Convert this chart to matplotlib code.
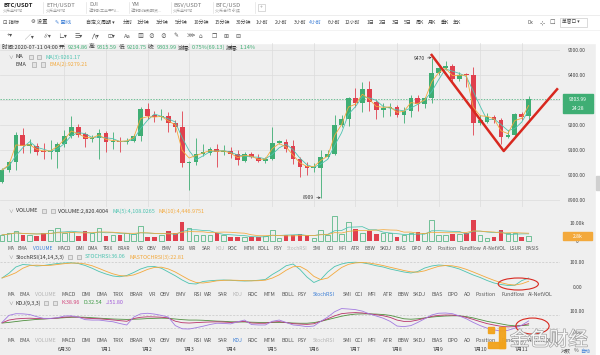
import numpy as np
import pandas as pd
import matplotlib
matplotlib.use('Agg')
import matplotlib.pyplot as plt
from matplotlib.patches import Rectangle, Ellipse
import matplotlib.patheffects as pe

plt.rcParams['font.family'] = ['Noto Sans CJK SC', 'DejaVu Sans']

# ---------------- data ----------------
opens = [8973, 9020, 9051, 9160, 9115, 9117, 9097, 9093, 9093, 9123,
         9156, 9193, 9163, 9143, 9147, 9167, 9133, 9136, 9133, 9136,
         9156, 9264, 9240, 9231, 9236, 9207, 9193, 9047, 9053, 9083,
         9090, 9103, 9093, 9097, 9084, 9057, 9084, 9069, 9058, 9064,
         9127, 9133, 9118, 9063, 9036, 9027, 9027, 9071, 9084, 9200,
         9223, 9307, 9289, 9343, 9293, 9260, 9269, 9273, 9240, 9257,
         9307, 9284, 9307, 9409, 9430, 9436, 9383, 9403, 9400, 9207,
         9213, 9233, 9220, 9151, 9160, 9244, 9234.86]
highs = [9027, 9056, 9171, 9189, 9143, 9127, 9130, 9140, 9133, 9180,
         9237, 9204, 9171, 9160, 9184, 9176, 9171, 9153, 9149, 9163,
         9273, 9289, 9256, 9264, 9251, 9220, 9256, 9056, 9149, 9123,
         9113, 9123, 9120, 9113, 9100, 9093, 9093, 9084, 9072, 9191,
         9140, 9144, 9140, 9071, 9053, 9049, 9100, 9100, 9240, 9240,
         9313, 9349, 9373, 9377, 9300, 9289, 9287, 9280, 9273, 9320,
         9320, 9313, 9470, 9433, 9455, 9444, 9413, 9409, 9431, 9240,
         9249, 9240, 9227, 9180, 9249, 9253, 9315.59]
lows = [8969, 9013, 9020, 9087, 9087, 9080, 9064, 9064, 9027, 9113,
        9149, 9153, 9113, 9131, 9064, 9093, 9104, 9093, 9123, 9131,
        9136, 9224, 9211, 9220, 9173, 9171, 9033, 8940, 9040, 9076,
        9080, 9033, 9080, 9067, 9040, 9053, 9067, 9051, 9050, 9060,
        9124, 9093, 9043, 8991, 9000, 9013, 8909, 9067, 9080, 9191,
        9196, 9273, 9253, 9257, 9223, 9233, 9236, 9233, 9207, 9233,
        9257, 9267, 9287, 9400, 9420, 9377, 9377, 9353, 9160, 9200,
        9207, 9207, 9124, 9147, 9153, 9220, 9210.75]
closes = [9020, 9051, 9160, 9117, 9123, 9093, 9093, 9097, 9123, 9156,
          9193, 9160, 9143, 9147, 9167, 9133, 9136, 9133, 9137, 9156,
          9264, 9237, 9231, 9236, 9207, 9193, 9047, 9053, 9083, 9093,
          9103, 9093, 9097, 9083, 9060, 9084, 9073, 9056, 9064, 9127,
          9136, 9105, 9063, 9033, 9027, 9033, 9071, 9084, 9200, 9223,
          9307, 9289, 9343, 9293, 9260, 9269, 9273, 9240, 9257, 9307,
          9284, 9307, 9409, 9427, 9436, 9383, 9400, 9399, 9207, 9220,
          9233, 9220, 9153, 9160, 9244, 9231, 9303.99]
volumes_k = [3.6, 4.5, 6.0, 3.6, 3.6, 3.1, 4.9, 6.4, 7.3, 4.5,
             5.0, 3.1, 5.5, 4.5, 7.6, 3.1, 3.6, 3.6, 4.5, 4.0,
             8.2, 2.7, 2.7, 3.6, 5.5, 4.5, 10.9, 7.6, 3.6, 3.6,
             3.6, 4.9, 3.6, 2.7, 2.2, 2.7, 2.2, 2.7, 3.1, 6.4,
             2.0, 3.3, 3.3, 4.2, 3.6, 1.8, 6.4, 3.6, 14.0, 4.2,
             10.9, 6.9, 4.5, 5.5, 4.2, 4.5, 4.5, 2.7, 3.3, 4.5,
             5.1, 4.5, 11.8, 3.6, 3.6, 4.2, 4.2, 4.5, 11.8, 3.6,
             1.8, 2.7, 6.4, 4.5, 4.5, 2.7, 2.82]
stoch_rsi = [36, 55, 80, 90, 88, 84, 86, 90, 94, 96,
             97, 94, 86, 75, 62, 52, 44, 41, 46, 58,
             72, 81, 82, 75, 60, 45, 28, 14, 12, 22,
             25, 27, 28, 27, 25, 24, 25, 27, 30, 50,
             66, 85, 92, 70, 40, 18, 30, 60, 82, 92,
             98, 99, 97, 92, 85, 80, 72, 66, 60, 56,
             62, 76, 84, 88, 86, 80, 72, 60, 48, 38,
             26, 16, 10, 6, 7, 25.5, 36.06]
kdj_k = [43.0, 56.0, 61.3, 63.7, 64.7, 63.3, 62.0, 63.3, 65.7, 69.7,
         71.3, 70.0, 65.3, 63.3, 62.0, 59.3, 56.7, 53.3, 50.3, 63.3,
         69.0, 71.3, 70.7, 69.3, 66.0, 50.7, 43.7, 42.0, 44.0, 45.7,
         47.0, 47.7, 46.7, 44.7, 47.3, 50.0, 42.3, 41.0, 41.0, 46.7,
         48.7, 44.3, 39.0, 37.3, 35.7, 38.7, 50.0, 62.0, 75.7, 86.0,
         89.3, 91.0, 89.3, 85.0, 81.0, 76.3, 68.7, 56.0, 49.7, 50.0,
         56.3, 64.7, 73.3, 78.0, 79.7, 79.3, 75.7, 68.7, 59.0, 48.7,
         39.3, 32.7, 26.7, 24.0, 25.3, 30.7, 38.96]
kdj_d = [42, 45, 49, 53, 56, 59, 61, 63, 65, 67,
         69, 70, 69, 67, 65, 63, 61, 60, 59, 60,
         61, 63, 64, 65, 64, 61, 58, 56, 56, 55,
         53, 51, 50, 48, 47, 47, 46, 45, 45, 45,
         45, 44, 42, 41, 41, 44, 50, 58, 66, 74,
         80, 84, 85, 85, 84, 82, 78, 70, 62, 60,
         62, 66, 70, 73, 75, 76, 76, 72, 66, 58,
         50, 44, 38, 32, 29, 30, 32.54]
start_time = '2020-06-28 12:00'
price_ticks = [8900, 9000, 9100, 9200, 9300, 9400, 9500]
first_label_day = '2020-06-30'
# hand-drawn annotation (candle index, price)
v_line_idx = [62.0, 72.4, 80.1]
v_line_price = [9480, 9096, 9343]

# ---------------- derived ----------------
o = np.array(opens); h = np.array(highs); l = np.array(lows); c = np.array(closes)
vol = np.array(volumes_k)
n = len(c)
x = np.arange(n)
times = pd.date_range(start_time, periods=n, freq='4h')
day_mask = (times.hour == 0) & (times >= pd.Timestamp(first_label_day))
day_idx = x[day_mask]
day_labels = [f"{t.month}月{t.day}" for t in times[day_mask]]
ma3 = pd.Series(c).rolling(3, min_periods=1).mean()
ema2 = pd.Series(c).ewm(span=2, adjust=False).mean()
vma5 = pd.Series(vol).rolling(5, min_periods=1).mean()
vma10 = pd.Series(vol).rolling(10, min_periods=1).mean()
srsi = np.array(stoch_rsi)
srsi_ma = pd.Series(srsi).rolling(3, min_periods=1).mean()
K = np.array(kdj_k); D = np.array(kdj_d); J = 3 * K - 2 * D
up = c >= o

GREEN = '#3fae74'
RED = '#e0404e'
TEAL = '#4cc3b0'
ORANGE = '#f3a93c'
BLUE = '#3d7fd6'
GRID = '#dcdcdc'
TXT = '#444444'

W, H = 600, 355
fig = plt.figure(figsize=(6, 3.55), dpi=100)
fig.patch.set_facecolor('#efefef')
renderer = fig.canvas.get_renderer()


def frect(x0, y0, x1, y1, **kw):
    r = Rectangle((x0 / W, 1 - y1 / H), (x1 - x0) / W, (y1 - y0) / H,
                  transform=fig.transFigure, **kw)
    fig.add_artist(r)
    return r


def put(xp, yp, s, color=TXT, size=3.8, ha='left', **kw):
    return fig.text(xp / W, 1 - yp / H, s, color=color, fontsize=size,
                    va='center', ha=ha, **kw)


def seq(xp, yp, parts, size=3.8, gap=1.5):
    for s, col in parts:
        t = put(xp, yp, s, col, size)
        bb = t.get_window_extent(renderer=renderer)
        xp += bb.width + gap
    return xp


def px_axes(left, top, right, bottom):
    ax = fig.add_axes([left / W, 1 - bottom / H, (right - left) / W, (bottom - top) / H])
    ax.set_facecolor('none')
    for s in ax.spines.values():
        s.set_visible(False)
    ax.set_xlim(-0.29, 80.52)
    return ax


def right_labels(ax, ticks, labels, size=3.6):
    ax.yaxis.tick_right()
    ax.set_yticks(ticks)
    ax.set_yticklabels(labels)
    ax.tick_params(axis='y', length=0, pad=12.3, labelsize=size, labelcolor=TXT)
    plt.setp(ax.get_yticklabels(), ha='center')


# ---------------- toolbar (white) ----------------
frect(0, 0, 600, 42.5, color='white', zorder=0)
fig.add_artist(plt.Line2D([0, 1], [1 - 14.5 / H] * 2, transform=fig.transFigure, color='#e6e6e6', lw=0.5))
fig.add_artist(plt.Line2D([0, 1], [1 - 29.5 / H] * 2, transform=fig.transFigure, color='#eeeeee', lw=0.5))

tabs = [("BTC/USDT", "火币全球站", 3), ("ETH/USDT", "火币全球站", 46), ("DJI", "道琼斯工业平均...", 89),
        ("YM", "道琼斯指数期货...", 131), ("BSV/USDT", "火币全球站", 173), ("BTC/USD", "火币合约 永续", 215)]
for k_, (a, b, xp) in enumerate(tabs):
    put(xp, 5, a, '#222' if k_ == 0 else '#777', 4.2, fontweight='bold' if k_ == 0 else 'normal')
    put(xp, 11, b, '#999', 2.9)
    fig.add_artist(plt.Line2D([(xp + 40) / W] * 2, [1 - 2 / H, 1 - 13 / H], transform=fig.transFigure,
                              color='#e3e3e3', lw=0.5))
frect(258, 4, 265, 11, facecolor='white', edgecolor='#bbb', lw=0.4)
put(261.5, 7.3, '+', '#999', 3.6, ha='center')

put(3, 22, '⊡ 指标', '#444', 3.8)
put(31, 22, '⚙ 设置', '#444', 3.8)
put(55, 22, '✎ 画线', BLUE, 3.8)
put(86, 22, '自定义周期 ▾', '#444', 3.6)
periods = [("分时", 123), ("1分钟", 137), ("3分钟", 156), ("5分钟", 175), ("10分钟", 194), ("15分钟", 215),
           ("30分钟", 236), ("1小时", 256), ("2小时", 275), ("3小时", 294), ("4小时", 309), ("6小时", 328),
           ("12小时", 345), ("1日", 367), ("2日", 379), ("3日", 392), ("5日", 404), ("周K", 416),
           ("月K", 428), ("季K", 441), ("年K", 453)]
for s, xp in periods:
    put(xp, 22, s, BLUE if s == "4小时" else '#444', 3.6)
put(527, 22, 'Dx', '#555', 3.5)
put(540, 22, '⊹', '#555', 4.5)
put(549, 22, '☐', '#555', 4.5)
frect(560, 17.5, 587, 26.5, facecolor='white', edgecolor='#ccc', lw=0.5)
put(562, 22, '单窗口 ▾', '#444', 3.4)

icons = [("+▾", 7), ("╱▾", 25), ("∥▾", 43), ("∟▾", 58), ("☰▾", 75), ("⋀▾", 91), ("⊡▾", 107),
         ("Aa", 124), ("▨", 137), ("⊘", 148), ("⊘", 160), ("✎", 173), ("⋙", 187), ("⌂", 199),
         ("❐", 212), ("⊞", 223), ("⊟", 235)]
for s, xp in icons:
    put(xp, 36, s, '#555', 4.2)

# ---------------- info rows ----------------
seq(2, 47.5, [("时间:2020-07-11 04:00", '#333'), ("开:", '#333'), ("9234.86", GREEN), ("高:", '#333'),
              ("9315.59", GREEN), ("低:", '#333'), ("9210.75", GREEN), ("收:", '#333'), ("9303.99", GREEN),
              ("涨幅:", '#333'), ("0.75%(69.13)", GREEN), ("振幅:", '#333'), ("1.14%", GREEN)], size=4.0, gap=1.3)


def title_row(yp, name, name_x, box_x, parts, parts_x, chevron=True):
    if chevron:
        put(8, yp, '∨', '#888', 3.4)
    put(name_x, yp, name, '#333', 3.9)
    for bx in box_x:
        frect(bx, yp - 2.2, bx + 4.4, yp + 2.2, facecolor='#e4e4e4', edgecolor='#999', lw=0.4)
    seq(parts_x, yp, parts, size=3.9, gap=4)


title_row(57, 'MA', 15, [28.5, 37], [("MA(3):9261.17", TEAL)], 45)
title_row(64.5, 'EMA', 15, [32, 41], [("EMA(2):9279.21", ORANGE)], 49, chevron=False)
title_row(211, 'VOLUME', 16, [42, 50.5], [("VOLUME:2,820.4004", '#333'), ("MA(5):4,108.0265", TEAL),
                                          ("MA(10):4,446.9751", ORANGE)], 58)
title_row(257, 'StochRSI(14,14,3,3)', 16, [68, 77], [("STOCHRSI:36.06", TEAL),
                                                     ("MASTOCHRSI(3):22.81", ORANGE)], 85)
title_row(303, 'KDJ(9,3,3)', 16, [44, 53], [("K:38.96", '#d2447a'), ("D:32.54", '#3f9a45'),
                                            ("J:51.80", '#a058d8')], 61)

# indicator name rows
names1 = ["MA", "EMA", "VOLUME", "MACD", "DMI", "DMA", "TRIX", "BRAR", "VR", "OBV", "EMV", "RSI", "WR", "SAR",
          "KDJ", "ROC", "MTM", "BOLL", "PSY", "StochRSI", "SMI", "CCI", "MFI", "ATR", "BBW", "SKDJ", "BIAS",
          "DPO", "AO", "Position", "Fundflow", "AI-NetVOL", "LSUR", "BASIS"]
x1 = [7, 18, 33, 57, 75, 88, 103, 118, 137, 147, 162, 177, 189, 202, 215, 228, 243, 258, 273, 287, 313,
      327, 339, 351, 365, 380, 395, 411, 426, 437, 459, 483, 509, 526]
names2 = names1[:-2]
x2 = [7, 19, 35, 62, 82, 97, 113, 130, 149, 160, 176, 193, 204, 218, 233, 248, 263, 281, 298, 313, 343,
      355, 368, 383, 397, 413, 432, 448, 464, 476, 501, 528]


def name_row(yp, names, xs, active, grey, size):
    for s, xp in zip(names, xs):
        col = BLUE if s == active else ('#b5b5b5' if s in grey else '#555')
        put(xp, yp, s, col, size)


name_row(248, names1, x1, "VOLUME", ["KDJ", "StochRSI"], 3.5)
name_row(294, names2, x2, "StochRSI", ["VOLUME", "KDJ"], 3.8)
name_row(340, names2, x2, "KDJ", ["VOLUME", "StochRSI"], 3.8)

# ---------------- main price panel ----------------
ax = px_axes(0, 43, 560, 207)
ax.set_ylim(8872, 9528)
ax.set_xticks(day_idx)
ax.tick_params(axis='x', length=0, labelbottom=False)
right_labels(ax, price_ticks, [f"{p:.2f}" for p in price_ticks])
ax.grid(True, color=GRID, lw=0.5)
ax.set_axisbelow(True)
colors = np.where(up, GREEN, RED)
ax.vlines(x, l, h, colors=colors, lw=0.6, zorder=2)
body_lo = np.minimum(o, c)
body_h = np.maximum(np.abs(c - o), 2.0)
ax.bar(x, body_h, 0.68, bottom=body_lo, color=colors, lw=0, zorder=3)
ax.plot(x, ma3, color=TEAL, lw=0.6, zorder=4)
ax.plot(x, ema2, color=ORANGE, lw=0.6, zorder=4)
ax.axhline(c[-1], color=GREEN, lw=0.5, ls=(0, (2, 2)), zorder=1)
imax = int(np.argmax(h)); imin = int(np.argmin(l))
ax.annotate(f"{h[imax]:.0f}", xy=(imax, h[imax]), xytext=(-5, -1), textcoords='offset points',
            ha='right', va='center', fontsize=3.6, color='#333',
            arrowprops=dict(arrowstyle='->', lw=0.4, color='#333', shrinkA=0, shrinkB=0))
ax.annotate(f"{l[imin]:.0f}", xy=(imin, l[imin]), xytext=(-5, 0), textcoords='offset points',
            ha='right', va='center', fontsize=3.6, color='#333',
            arrowprops=dict(arrowstyle='->', lw=0.4, color='#333', shrinkA=0, shrinkB=0))
ax.plot(v_line_idx, v_line_price, color='#d8281f', lw=1.8, zorder=6, clip_on=False)

# price tag
yd = H - ax.transData.transform((0, c[-1]))[1]
frect(563, yd - 4.6, 593, yd + 4.6, color=GREEN, zorder=5)
put(578, yd, f"{c[-1]:.2f}", 'white', 3.6, ha='center', zorder=6)
frect(563, yd + 5.4, 593, yd + 14.2, color=GREEN, zorder=5)
put(578, yd + 9.8, "24:28", 'white', 3.6, ha='center', zorder=6)

# ---------------- volume panel ----------------
axv = px_axes(0, 213, 560, 243)
axv.set_ylim(-0.82, 15.57)
axv.set_xticks([])
right_labels(axv, [0, 10], ['0', '10.00k'])
axv.bar(x[up], vol[up], 0.66, facecolor='none', edgecolor=GREEN, lw=0.5, zorder=2)
axv.bar(x[~up], vol[~up], 0.66, color=RED, lw=0, zorder=2)
axv.plot(x, vma5, color=TEAL, lw=0.55, zorder=3)
axv.plot(x, vma10, color=ORANGE, lw=0.55, zorder=3)
yv = H - axv.transData.transform((0, vol[-1]))[1]
frect(563, yv - 4, 592, yv + 4, color=ORANGE, zorder=5)
put(577.5, yv, f"{vol[-1]:.1f}k", 'white', 3.6, ha='center', zorder=6)

# ---------------- StochRSI panel ----------------
axs = px_axes(0, 259, 560, 289)
axs.set_ylim(-8, 112)
axs.set_xticks([])
right_labels(axs, [0, 100], ['0.00', '100.00'])
axs.axhline(100, color='#c8c8c8', lw=0.5, ls=(0, (3, 2)))
axs.plot(x, srsi, color=TEAL, lw=0.6)
axs.plot(x, srsi_ma, color=ORANGE, lw=0.6)
axs.add_patch(Ellipse((74.5, 12), 5.8, 48, fill=False, ec='#d8281f', lw=0.8, clip_on=False, zorder=5))

# ---------------- KDJ panel ----------------
axk = px_axes(0, 306, 560, 335)
axk.set_ylim(-14.1, 122)
right_labels(axk, [0, 100], ['0.00', '100.00'])
axk.axhline(80, color='#c8c8c8', lw=0.5, ls=(0, (3, 2)))
axk.axhline(20, color='#c8c8c8', lw=0.5, ls=(0, (3, 2)))
axk.plot(x, D, color='#4e8f3e', lw=0.6)
axk.plot(x, K, color='#b8336a', lw=0.6)
axk.plot(x, J, color='#a27ae0', lw=0.6)
axk.set_xticks(day_idx)
axk.set_xticklabels(day_labels)
axk.tick_params(axis='x', length=0, pad=8.3, labelsize=3.7, labelcolor=TXT)
axk.add_patch(Ellipse((76.55, 28), 4.8, 75, fill=False, ec='#d8281f', lw=0.8, clip_on=False, zorder=5))

# ---------------- watermark & misc ----------------
frect(596, 42.5, 600, 355, color='white', zorder=1)
frect(596, 176, 600, 190, color='#d0d0d0', zorder=2)
for (a0, b0, a1, b1) in [(488, 327, 494, 333), (499, 327, 505, 348), (488, 342, 505, 348)]:
    frect(a0, b0, a1, b1, color='#f2a21b', alpha=0.95, zorder=7)
put(549, 340, '金色财经', 'white', 14, ha='center', zorder=7, alpha=0.9,
    path_effects=[pe.withStroke(linewidth=1.0, foreground='#9a9a9a')])
put(561, 351, '对数', '#555', 3.6, zorder=8)
put(574, 351, '%', '#555', 3.6, zorder=8)
put(580, 351, '自动', BLUE, 3.6, zorder=8)

fig.savefig('out.png', dpi=100, facecolor=fig.get_facecolor())
